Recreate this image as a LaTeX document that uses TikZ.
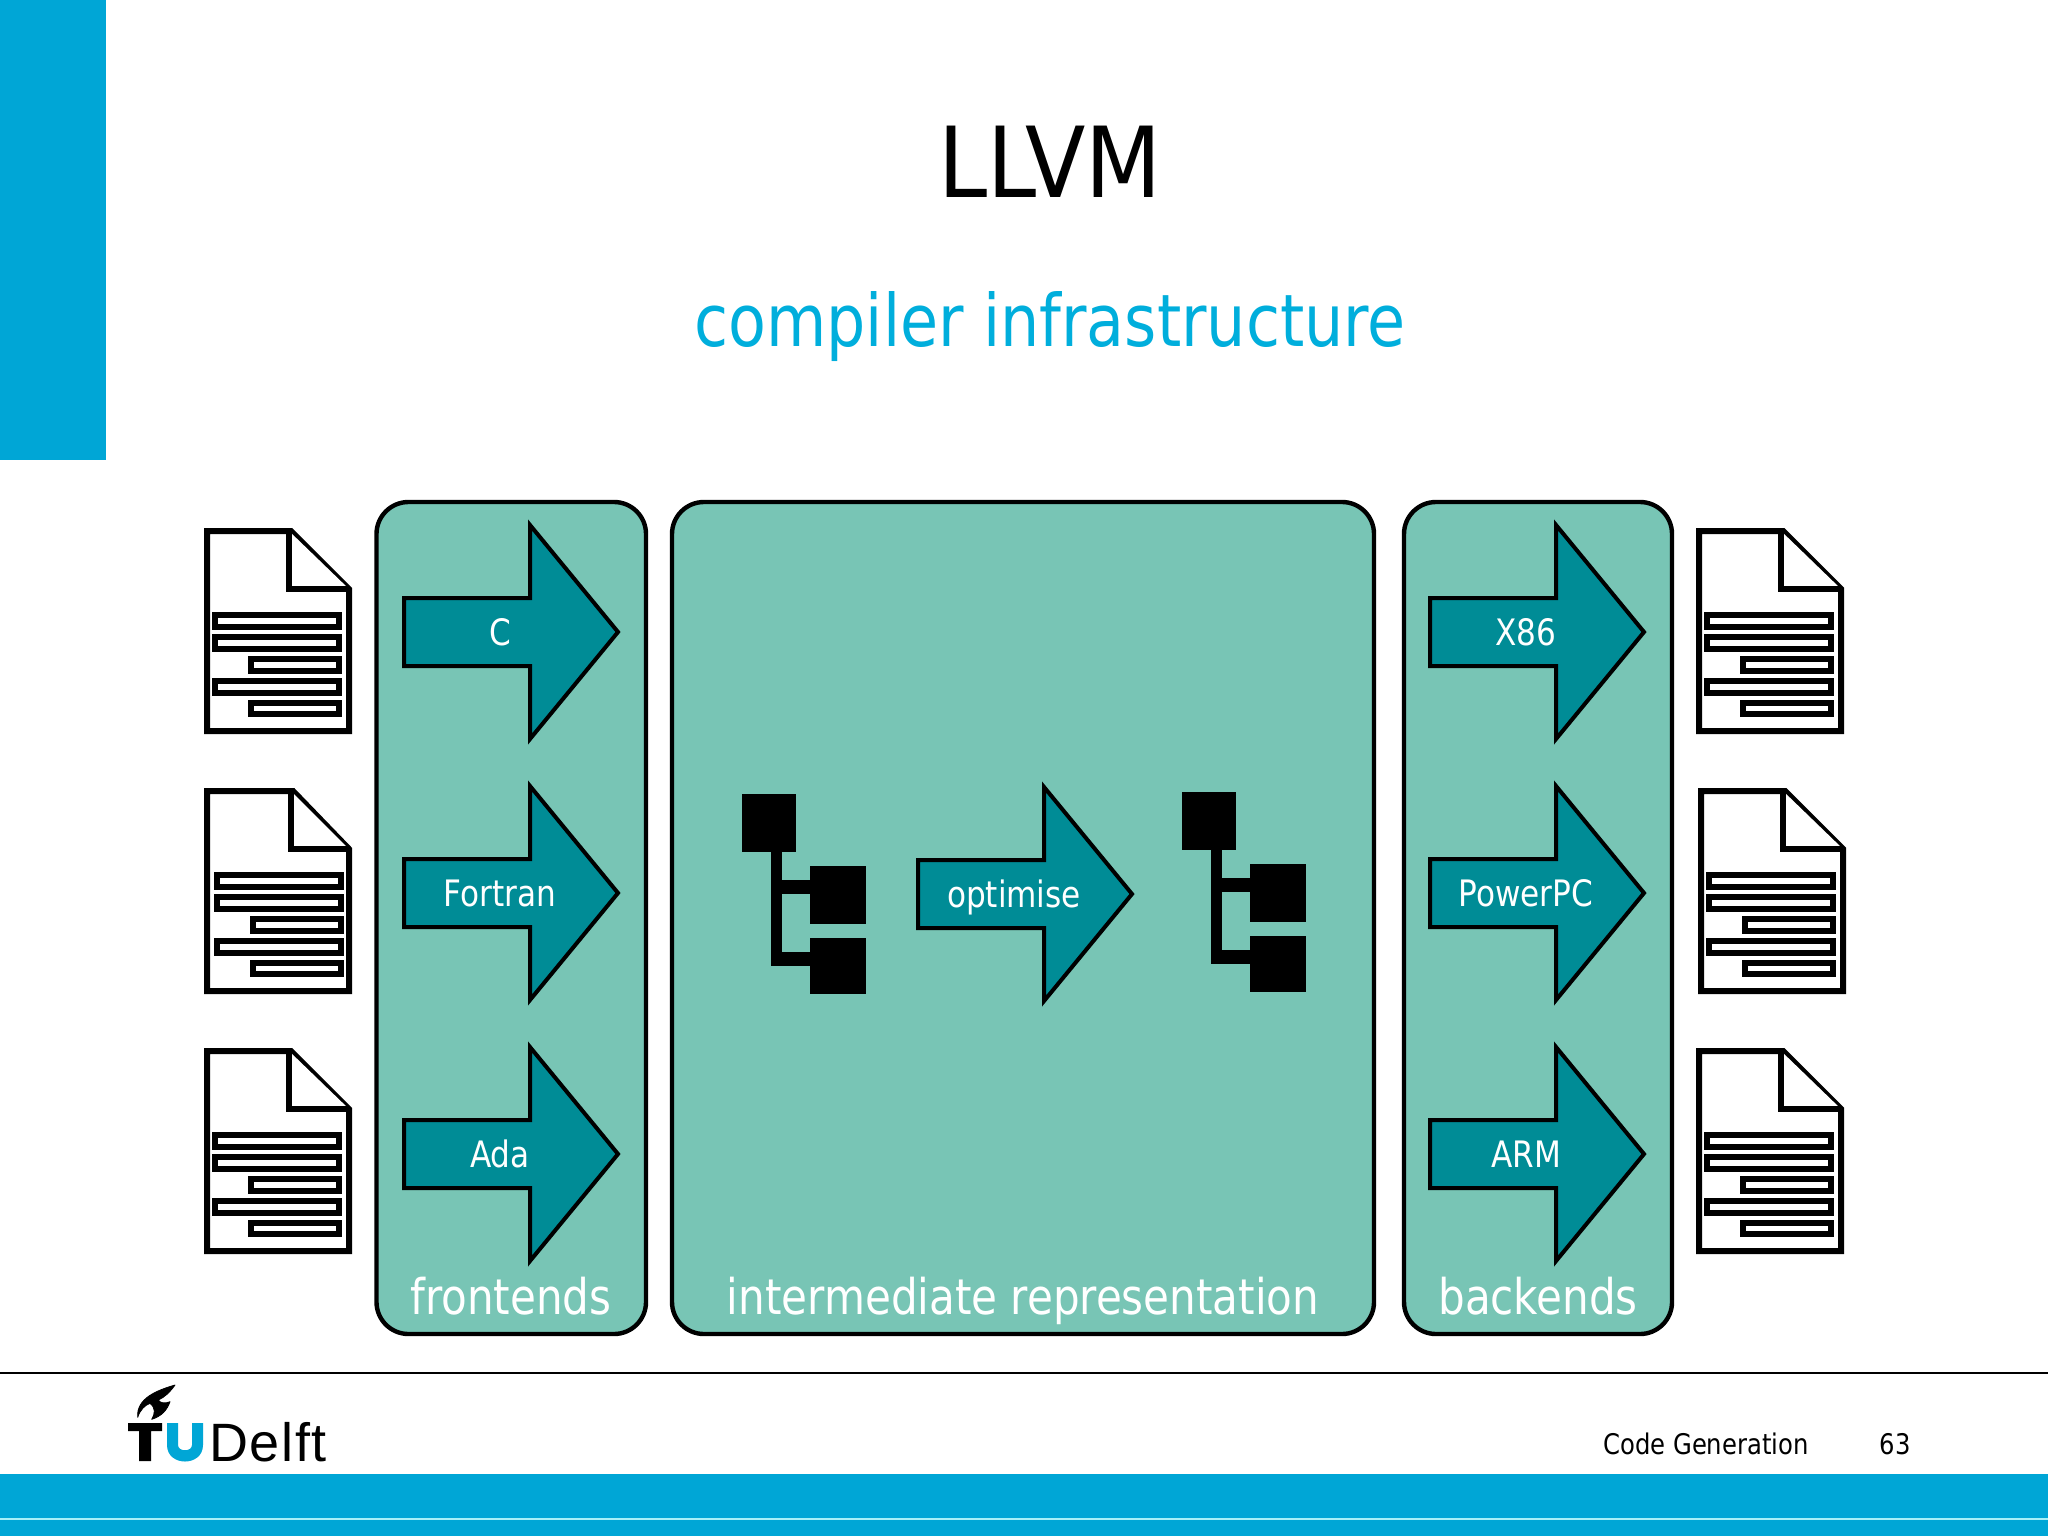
\documentclass[tikz,border=0pt]{standalone}
\usepackage{fontspec}
\setmainfont{DejaVu Sans Condensed}
\newfontfamily\narrowfont[FakeStretch=0.95]{DejaVu Sans Condensed}
\newfontfamily\logofont[LetterSpace=3]{Liberation Sans}
\definecolor{tublue}{HTML}{00A6D6}
\definecolor{subblue}{HTML}{00AEDC}
\definecolor{panelgreen}{HTML}{78C5B5}
\definecolor{arrowteal}{HTML}{008C96}
\definecolor{footerline}{HTML}{A8F0F8}
\tikzset{
  panelbox/.style={draw=black,fill=panelgreen,line width=2.2pt,rounded corners=16pt},
  blockarrow/.style={draw=black,fill=arrowteal,line width=2pt,miter limit=20,line join=miter},
  docpage/.style={draw=black,fill=white,line width=3pt,line join=miter},
  docline/.style={draw=black,fill=white,line width=3pt},
  treepart/.style={fill=black,draw=none},
  arrowtext/.style={text=white,font=\narrowfont\fontsize{18.2}{20}\selectfont,anchor=base,inner sep=0pt},
  paneltext/.style={text=white,font=\narrowfont\fontsize{24.6}{28}\selectfont,anchor=base,inner sep=0pt},
  foottext/.style={text=black,font=\narrowfont\fontsize{14.2}{16}\selectfont,anchor=base,inner sep=0pt}
}
\newcommand{\docicon}[3]{% x y shift-of-lines
  \begin{scope}[shift={(#1,#2)}]
    \draw[docpage] (0,0) -- (84+#3,0) -- (142,58) -- (142,200) -- (0,200) -- cycle;
    \draw[docpage] (82+#3,0) -- (82+#3,58) -- (142,58);
    \draw[docline] (8+#3,84) rectangle (132+#3,95.5);
    \draw[docline] (8+#3,106) rectangle (132+#3,117.5);
    \draw[docline] (44+#3,128) rectangle (132+#3,139.5);
    \draw[docline] (8+#3,150) rectangle (132+#3,161.5);
    \draw[docline] (44+#3,172) rectangle (132+#3,182.5);
  \end{scope}}
\newcommand{\arrowshape}[3]{% x y text
  \draw[blockarrow] (#1,#2-34) -- (#1+126,#2-34) -- (#1+126,#2-107) -- (#1+214,#2) -- (#1+126,#2+107) -- (#1+126,#2+34) -- (#1,#2+34) -- cycle;
  \node[arrowtext] at (#1+96,#2+13.5) {#3};}
\newcommand{\treeicon}[2]{%
  \begin{scope}[shift={(#1,#2)}]
    \fill[treepart] (742,794) rectangle (796,852);
    \fill[treepart] (771,852) rectangle (782,966);
    \fill[treepart] (782,880) rectangle (810,894);
    \fill[treepart] (782,952) rectangle (810,966);
    \fill[treepart] (810,866) rectangle (866,924);
    \fill[treepart] (810,938) rectangle (866,994);
  \end{scope}}
\begin{document}
\begin{tikzpicture}[x=0.5pt,y=-0.5pt]
\useasboundingbox (0,0) rectangle (2048,1536);
\fill[white] (0,0) rectangle (2048,1536);
% slide chrome
\fill[tublue] (0,0) rectangle (106,460);
\fill[tublue] (0,1474) rectangle (2048,1536);
\fill[footerline] (0,1518) rectangle (2048,1520);
\draw[black,line width=1pt] (0,1373) -- (2048,1373);
% titles
\node[font=\fontsize{49}{56}\selectfont,anchor=base,inner sep=0pt] (title) at (1050,197) {LLVM};
\node[font=\narrowfont\fontsize{36.2}{42}\selectfont,text=subblue,anchor=base,inner sep=0pt] (subtitle) at (1050,346) {compiler infrastructure};
% panels
\draw[panelbox] (376.5,502) rectangle (646,1334);
\draw[panelbox] (672,502) rectangle (1374,1334);
\draw[panelbox] (1404,502) rectangle (1672,1334);
\node[paneltext] (frontends) at (511,1314) {frontends};
\node[paneltext] (ir) at (1023,1314) {intermediate representation};
\node[paneltext] (backends) at (1538,1314) {backends};
% documents
\docicon{207}{531}{0}
\docicon{207}{791}{2}
\docicon{207}{1051}{0}
\docicon{1699}{531}{0}
\docicon{1701}{791}{0}
\docicon{1699}{1051}{0}
% arrows
\arrowshape{404}{632}{C}
\arrowshape{404}{893}{Fortran}
\arrowshape{404}{1154}{Ada}
\arrowshape{1430}{632}{X86}
\arrowshape{1430}{893}{PowerPC}
\arrowshape{1430}{1154}{ARM}
% optimise
\draw[blockarrow] (918,860) -- (1044,860) -- (1044,787) -- (1132,894) -- (1044,1001) -- (1044,928) -- (918,928) -- cycle;
\node[arrowtext] (optimise) at (1014,907) {optimise};
% trees
\treeicon{0}{0}
\treeicon{440}{-2}
% footer
\node[foottext] (codegen) at (1706,1454) {Code Generation};
\node[foottext] (pagenum) at (1895,1454) {63};
% logo
\fill[black] (128,1423) -- (162,1423) -- (162,1431) -- (151,1431) -- (151,1461) -- (139,1461) -- (139,1431) -- (128,1431) -- cycle;
\fill[tublue] (167,1423) -- (178,1423) -- (178,1445) .. controls (178,1452) and (192,1452) .. (192,1445) -- (192,1423) -- (203,1423) -- (203,1445) .. controls (203,1467) and (167,1467) .. (167,1445) -- cycle;
\filldraw[black,line width=0.4pt,line join=round] (175,1385) .. controls (158,1390) and (136,1398) .. (137.7,1417.3) .. controls (140,1410) and (145,1405) .. (150,1403.3) .. controls (156,1408) and (155,1414) .. (151.7,1419.3) .. controls (162,1416) and (167,1410) .. (170,1401.7) .. controls (165,1404) and (160,1403) .. (158.3,1400) .. controls (165,1397) and (170,1392) .. (175,1385) -- cycle;
\node[font=\logofont\fontsize{27}{30}\selectfont,anchor=base west,inner sep=0pt] (delft) at (209,1461) {Delft};
\end{tikzpicture}
\end{document}
